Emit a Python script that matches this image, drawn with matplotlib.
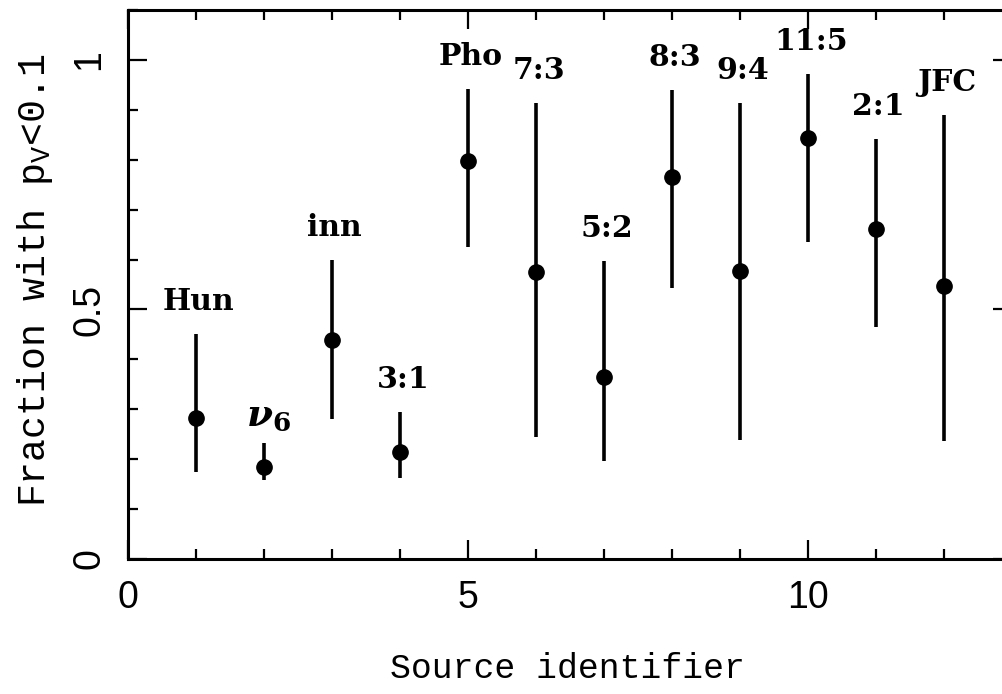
import matplotlib
matplotlib.use("Agg")
import matplotlib.pyplot as plt
from matplotlib.ticker import MultipleLocator

# Data
source_id = [1, 2, 3, 4, 5, 6, 7, 8, 9, 10, 11, 12]
labels = ["Hun", r"$\nu_{6}$", "inn", "3:1", "Pho", "7:3", "5:2", "8:3", "9:4", "11:5", "2:1", "JFC"]
fraction = [0.283, 0.184, 0.439, 0.214, 0.797, 0.575, 0.365, 0.766, 0.577, 0.843, 0.661, 0.547]
upper = [0.450, 0.232, 0.599, 0.295, 0.942, 0.914, 0.597, 0.940, 0.914, 0.972, 0.842, 0.890]
lower = [0.174, 0.158, 0.280, 0.162, 0.625, 0.245, 0.196, 0.543, 0.238, 0.635, 0.465, 0.236]

plt.rcParams['mathtext.fontset'] = 'custom'
plt.rcParams['mathtext.it'] = 'DejaVu Serif:italic:bold'
plt.rcParams['mathtext.rm'] = 'DejaVu Serif:bold'
plt.rcParams['mathtext.bf'] = 'DejaVu Serif:bold'

fig = plt.figure(figsize=(10.02, 6.94), dpi=100)
ax = fig.add_axes([128/1002, 135/694, 884/1002, 549/694])

yerr = [[f - l for f, l in zip(fraction, lower)], [u - f for f, u in zip(fraction, upper)]]
ax.errorbar(source_id, fraction, yerr=yerr, fmt='o', color='black',
            ms=11, elinewidth=2.6, capsize=0, zorder=3)

for x, u, lab in zip(source_id, upper, labels):
    is_math = lab.startswith('$')
    ax.annotate(lab, xy=(x, u), xytext=(3 if is_math else 2, 7 if is_math else 13),
                textcoords='offset points',
                ha='center', va='bottom', fontsize=27 if is_math else 21.5,
                fontweight='bold', family='DejaVu Serif')

ax.set_xlim(0, 13)
ax.set_ylim(0, 1.1)
ax.xaxis.set_minor_locator(MultipleLocator(1))
ax.yaxis.set_minor_locator(MultipleLocator(0.1))
ax.set_xticks([0, 5, 10])
ax.set_xticklabels(["0", "5", "10"])
ax.set_yticks([0, 0.5, 1])
ax.set_yticklabels(["0", "0.5", "1"], rotation=90, va='center')

ax.tick_params(which='both', direction='in', top=True, right=True, width=1.6,
               labelsize=27)
ax.tick_params(which='major', length=14, pad=15)
ax.tick_params(which='minor', length=7)
for lab in ax.get_xticklabels() + ax.get_yticklabels():
    lab.set_family('Liberation Sans')
for s in ax.spines.values():
    s.set_linewidth(2.2)

ax.set_xlabel("Source identifier", fontsize=25, family='Liberation Mono')
ax.set_ylabel(r"Fraction with p$_\mathregular{V}$<0.1", fontsize=27.5, family='Liberation Mono')
ax.xaxis.set_label_coords(0.497, -0.17)
ax.yaxis.set_label_coords(-0.083, 0.508)

fig.savefig("out.png", dpi=100)
